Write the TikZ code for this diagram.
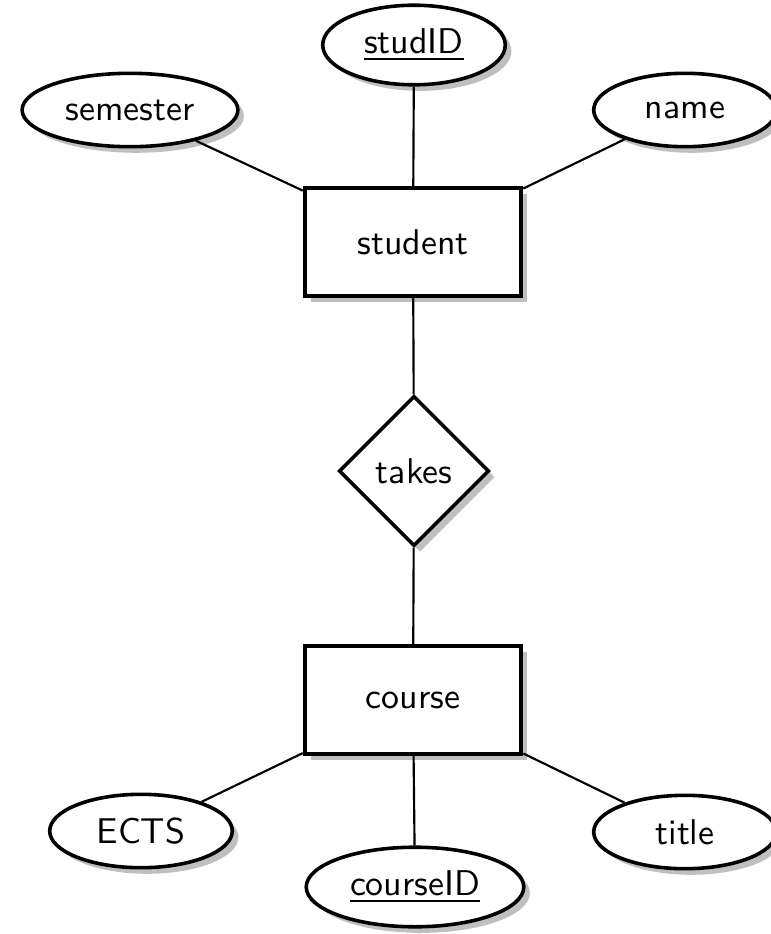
\documentclass[tikz,border=0pt]{standalone}
\usetikzlibrary{shapes.geometric,shadows}
\begin{document}
\begin{tikzpicture}[
  x=0.2793pt, y=-0.2793pt,
  font=\sffamily,
  shade/.style={drop shadow={shadow xshift=1.7pt, shadow yshift=-1.7pt, fill=black!25, opacity=1}},
  entity/.style={draw, line width=1.1pt, fill=white, shade,
    minimum width=60.5pt, minimum height=30pt, inner sep=0pt},
  attrib/.style={ellipse, draw, line width=1pt, fill=white, shade,
    minimum width=51pt, minimum height=20.5pt, inner sep=0.3333em},
  relation/.style={diamond, draw, line width=1pt, fill=white, shade,
    minimum width=42pt, minimum height=42pt, inner sep=0pt},
  link/.style={line width=0.6pt}
]
\useasboundingbox (0,0) rectangle (771,934);

% entities and relationship
\node[entity] (student) at (413,242) {student};
\node[relation] (takes) at (414,471) {takes};
\node[entity] (course) at (413,700) {course};

% attributes of student
\node[attrib] (studID) at (414,45) {\underline{studID}};
\node[attrib] (semester) at (130,110) {semester};
\node[attrib] (name) at (685,110) {name};

% attributes of course
\node[attrib] (ECTS) at (141,831) {ECTS};
\node[attrib] (courseID) at (415,887) {\underline{courseID}};
\node[attrib] (title) at (685,832) {title};

% connectors
\draw[link] (student) -- (studID);
\draw[link] (student) -- (semester);
\draw[link] (student) -- (name);
\draw[link] (student) -- (takes);
\draw[link] (takes) -- (course);
\draw[link] (course) -- (ECTS);
\draw[link] (course) -- (courseID);
\draw[link] (course) -- (title);
\end{tikzpicture}
\end{document}
